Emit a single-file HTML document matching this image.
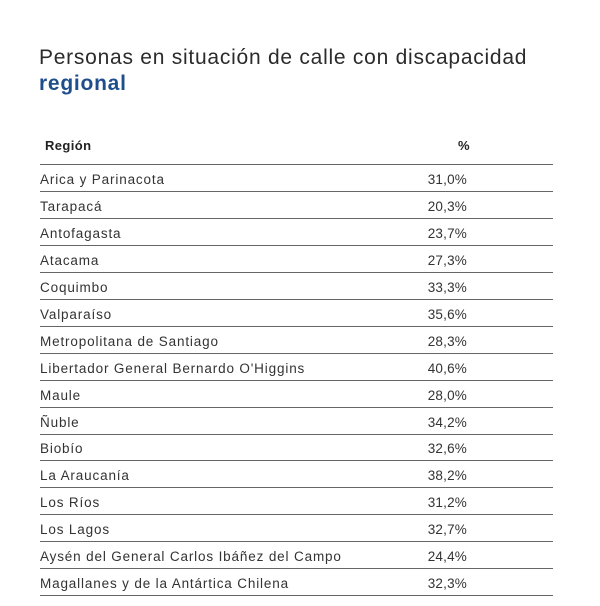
<!DOCTYPE html>
<html><head><meta charset="utf-8"><style>
body{margin:0;width:600px;height:606px;background:#fff;font-family:"Liberation Sans",sans-serif;color:#333;position:relative;overflow:hidden}
.t{position:absolute;left:39px;font-size:21px;color:#2b2b2b;white-space:nowrap;letter-spacing:0.75px}
.b{font-weight:bold;color:#1f4e8c}
.h{position:absolute;top:138px;font-size:13px;font-weight:bold;color:#222;letter-spacing:0.4px}
.row{position:absolute;left:40px;width:513px;height:27px;border-bottom:1.4px solid #666;font-size:13.5px;line-height:29px;box-sizing:border-box;letter-spacing:0.85px;white-space:nowrap}
.row span{position:absolute;right:86px;top:0;letter-spacing:0.2px}
</style></head><body>
<div class="t" style="top:46px">Personas en situación de calle con discapacidad</div>
<div class="t b" style="top:72px">regional</div>
<div class="h" style="left:45px">Región</div>
<div class="h" style="left:458px">%</div>
<div class="row" style="top:137px;height:28px"></div>
<div id="rows"></div>
<script>
var d=[["Arica y Parinacota","31,0%"],["Tarapacá","20,3%"],["Antofagasta","23,7%"],["Atacama","27,3%"],["Coquimbo","33,3%"],["Valparaíso","35,6%"],["Metropolitana de Santiago","28,3%"],["Libertador General Bernardo O'Higgins","40,6%"],["Maule","28,0%"],["Ñuble","34,2%"],["Biobío","32,6%"],["La Araucanía","38,2%"],["Los Ríos","31,2%"],["Los Lagos","32,7%"],["Aysén del General Carlos Ibáñez del Campo","24,4%"],["Magallanes y de la Antártica Chilena","32,3%"]];
var h="";d.forEach(function(r,i){h+='<div class="row" style="top:'+(165+i*26.94).toFixed(1)+'px">'+r[0]+'<span>'+r[1]+'</span></div>';});
document.getElementById("rows").innerHTML=h;
</script>
</body></html>
